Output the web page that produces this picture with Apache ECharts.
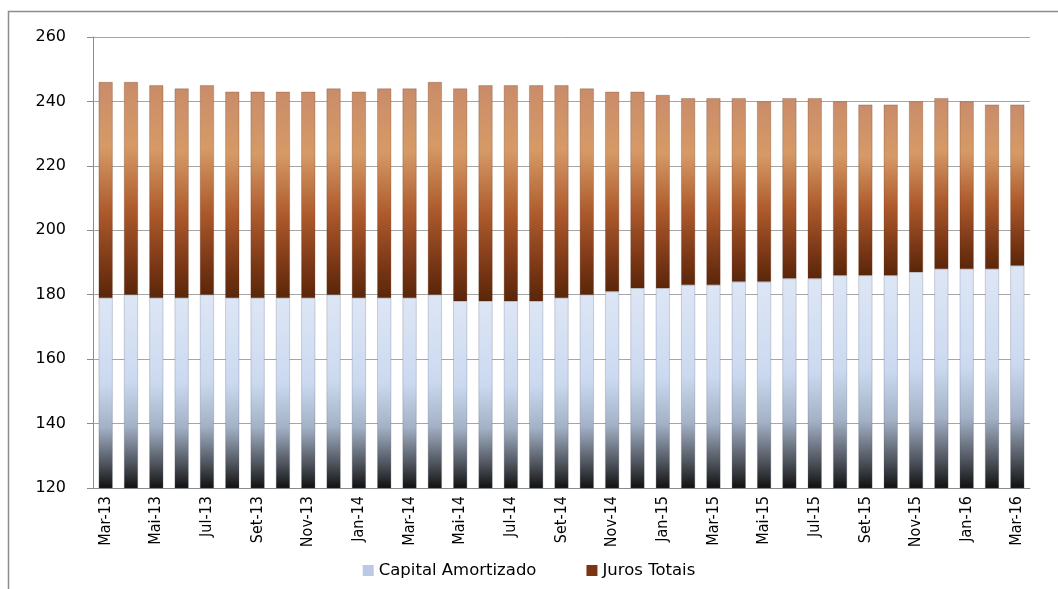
<!DOCTYPE html>
<html><head><meta charset="utf-8">
<script src="https://cdn.jsdelivr.net/npm/echarts@6/dist/echarts.min.js"></script>
<style>html,body{margin:0;padding:0;background:#fff}#c{width:1058px;height:589px}</style>
</head><body><div id="c"></div>
<script>
const categories = ["Mar-13","Abr-13","Mai-13","Jun-13","Jul-13","Ago-13","Set-13","Out-13","Nov-13","Dez-13",
"Jan-14","Fev-14","Mar-14","Abr-14","Mai-14","Jun-14","Jul-14","Ago-14","Set-14","Out-14","Nov-14","Dez-14",
"Jan-15","Fev-15","Mar-15","Abr-15","Mai-15","Jun-15","Jul-15","Ago-15","Set-15","Out-15","Nov-15","Dez-15",
"Jan-16","Fev-16","Mar-16"];
const capitalAmortizado = [179,180,179,179,180,179,179,179,179,180,179,179,179,180,178,178,178,178,179,180,181,182,182,183,183,184,184,185,185,186,186,186,187,188,188,188,189];
const totais = [246,246,245,244,245,243,243,243,243,244,243,244,244,246,244,245,245,245,245,244,243,243,242,241,241,241,240,241,241,240,239,239,240,241,240,239,239];
const jurosTotais = totais.map((t,i)=>t-capitalAmortizado[i]);
const yTicks = {min:120,max:260,interval:20};

const chart = echarts.init(document.getElementById('c'));
const capGrad = {type:'linear',x:0,y:0,x2:0,y2:1,colorStops:[
  {offset:0,color:'#dde6f5'},{offset:0.45,color:'#cbd9f0'},{offset:0.68,color:'#a3b1c6'},{offset:0.87,color:'#50555e'},{offset:1,color:'#101010'}]};
const jurGrad = {type:'linear',x:0,y:0,x2:0,y2:1,colorStops:[
  {offset:0,color:'#c98c6a'},{offset:0.3,color:'#d69a66'},{offset:0.6,color:'#ad5a2c'},{offset:0.85,color:'#7a3716'},{offset:1,color:'#5a2609'}]};
chart.setOption({
  animation:false,
  textStyle:{fontFamily:'DejaVu Sans'},
  grid:{left:93,right:28,top:37,bottom:101,containLabel:false},
  graphic:[{type:'rect',shape:{x:8.5,y:11.5,width:1060,height:620},style:{fill:'none',stroke:'#8c8c8c',lineWidth:1.5},silent:true}],
  legend:{bottom:5,left:'center',icon:'rect',itemWidth:11,itemHeight:11,itemGap:50,
    textStyle:{fontSize:16.5,color:'#000',fontFamily:'DejaVu Sans'},
    data:[{name:'Capital Amortizado',itemStyle:{color:'#b9c9e6',borderWidth:0}},{name:'Juros Totais',itemStyle:{color:'#7b3514',borderWidth:0}}]},
  xAxis:{type:'category',data:categories,
    axisLine:{lineStyle:{color:'#8c8c8c'}},
    axisTick:{interval:1,length:6,lineStyle:{color:'#8c8c8c'}},
    axisLabel:{interval:1,rotate:90,fontSize:16,color:'#000',margin:8,fontFamily:'Liberation Sans Narrow, DejaVu Sans Condensed, sans-serif'}},
  yAxis:{type:'value',min:yTicks.min,max:yTicks.max,interval:yTicks.interval,
    axisLine:{show:true,lineStyle:{color:'#8c8c8c'}},
    axisTick:{show:true,length:6,lineStyle:{color:'#8c8c8c'}},
    splitLine:{lineStyle:{color:'#a6a6a6'}},
    axisLabel:{fontSize:16,color:'#000',margin:27,fontFamily:'DejaVu Sans'}},
  series:[
    {name:'Capital Amortizado',type:'bar',stack:'s',data:capitalAmortizado,barWidth:'55%',
      itemStyle:{color:capGrad,borderColor:'rgba(80,90,110,0.5)',borderWidth:0.5}},
    {name:'Juros Totais',type:'bar',stack:'s',data:jurosTotais,barWidth:'55%',
      itemStyle:{color:jurGrad,borderColor:'rgba(90,40,15,0.5)',borderWidth:0.5}}
  ]
});
</script></body></html>
